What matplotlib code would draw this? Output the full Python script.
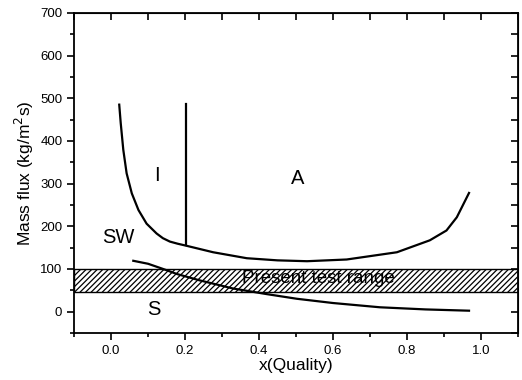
import numpy as np
import matplotlib.pyplot as plt
from matplotlib.ticker import MultipleLocator

plt.rcParams['font.family'] = ['Liberation Sans', 'DejaVu Sans']
plt.rcParams['hatch.linewidth'] = 0.9

# upper boundary: SW/I and A lower limit
x_upper = [0.022, 0.026, 0.033, 0.042, 0.056, 0.074, 0.096, 0.123, 0.14, 0.159, 0.18, 0.2,
           0.276, 0.367, 0.45, 0.53, 0.637, 0.773, 0.862, 0.907, 0.935, 0.968]
g_upper = [485, 442, 379, 324, 277, 238, 206, 183, 172, 164, 159, 155,
           139, 125, 120, 118, 122, 139, 167, 190, 221, 278]

# I / A boundary
x_vert = [0.203, 0.203]
g_vert = [155, 486]

# lower boundary: SW / S
x_lower = [0.06, 0.1, 0.14, 0.178, 0.24, 0.33, 0.42, 0.502, 0.6, 0.727, 0.85, 0.968]
g_lower = [119, 112, 100, 88, 73, 54, 41, 30, 20, 10, 5, 2]

# present test range
test_lo, test_hi = 45, 100

labels = ['I', 'A', 'SW', 'S']
label_x = [0.125, 0.505, 0.02, 0.115]
label_y = [318, 313, 174, 5]

fig = plt.figure(figsize=(5.22, 3.8), dpi=100)
ax = fig.add_axes([0.142, 0.124, 0.850, 0.842])

ax.axhspan(test_lo, test_hi, facecolor='white', edgecolor='black', hatch='//////', linewidth=1.0)
ax.text(0.56, 78, 'Present test range', ha='center', va='center', fontsize=13.5)

ax.plot(x_upper, g_upper, color='black', lw=1.6)
ax.plot(x_vert, g_vert, color='black', lw=1.6)
ax.plot(x_lower, g_lower, color='black', lw=1.6)

for s, lx, ly in zip(labels, label_x, label_y):
    ax.text(lx, ly, s, ha='center', va='center', fontsize=14.5)

ax.set_xlim(-0.1, 1.1)
ax.set_ylim(-50, 700)
ax.xaxis.set_major_locator(MultipleLocator(0.2))
ax.xaxis.set_minor_locator(MultipleLocator(0.1))
ax.yaxis.set_major_locator(MultipleLocator(100))
ax.yaxis.set_minor_locator(MultipleLocator(50))
ax.xaxis.set_major_formatter(plt.FormatStrFormatter('%.1f'))
ax.tick_params(which='both', direction='out', top=False, right=False, labelsize=9.5, width=1.2)
ax.tick_params(which='major', length=5)
ax.tick_params(which='minor', length=3)
for sp in ax.spines.values():
    sp.set_linewidth(1.3)

top = ax.secondary_xaxis('top')
top.xaxis.set_major_locator(MultipleLocator(0.2))
top.xaxis.set_minor_locator(MultipleLocator(0.1))
top.tick_params(which='both', direction='in', labeltop=False, width=1.2, length=5)
right = ax.secondary_yaxis('right')
right.yaxis.set_major_locator(MultipleLocator(100))
right.yaxis.set_minor_locator(MultipleLocator(50))
right.tick_params(which='both', direction='in', labelright=False, width=1.2, length=5)

ax.set_xlabel('x(Quality)', fontsize=12.5, labelpad=1)
ax.set_ylabel('Mass flux (kg/m$^2$s)', fontsize=12.5, labelpad=3)

fig.savefig('out.png', dpi=100)
